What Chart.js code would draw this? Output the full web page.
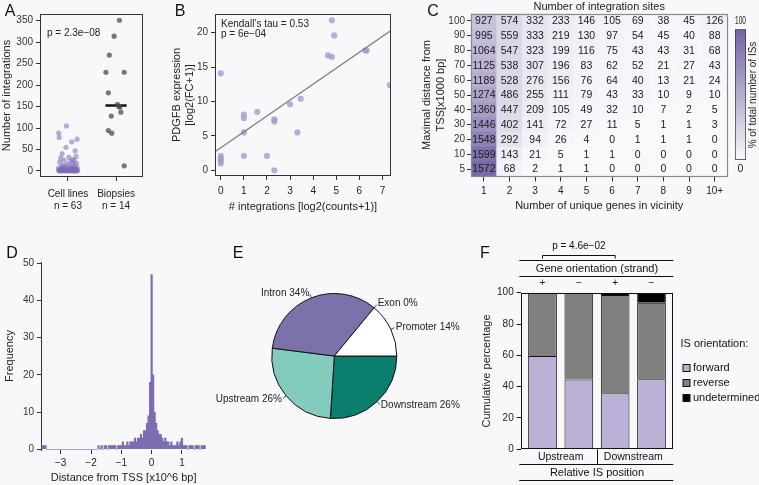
<!DOCTYPE html>
<html>
<head>
<meta charset="utf-8">
<script src="https://cdn.jsdelivr.net/npm/chart.js@4.4.1/dist/chart.umd.min.js"></script>
<style>
  html, body { margin: 0; padding: 0; background: #f8f8fa; }
  #fig { position: relative; width: 759px; height: 485px; overflow: hidden; }
  #fig canvas { position: absolute; left: 0; top: 0; }
</style>
</head>
<body>
<div id="fig">
  <canvas id="panelA" width="759" height="485"></canvas>
  <canvas id="panelB" width="759" height="485"></canvas>
  <canvas id="panelC" width="759" height="485"></canvas>
  <canvas id="panelCKey" width="759" height="485"></canvas>
  <canvas id="panelD" width="759" height="485"></canvas>
  <canvas id="panelE" width="759" height="485"></canvas>
  <canvas id="panelF" width="759" height="485"></canvas>
</div>
<script>
// ---- A: integrations per sample ----
const cellLineCounts = [105, 88, 78, 74, 68, 55, 47, 40, 34, 32, 30, 27, 25, 24, 22, 20, 18, 16, 15, 13, 12, 11, 10, 9, 8, 8, 7, 6, 6, 5,
  5, 4, 4, 4, 3, 3, 3, 3, 2, 2, 2, 2, 2, 2, 1, 1, 1, 1, 1, 1,
  1, 1, 1, 1, 1, 1, 0, 0, 0, 0, 0, 0, 0];
const cellLineJitter = [-0.03, -0.19, -0.18, 0.19, 0.08, -0.04, 0.15, -0.12, 0.17, 0.02, -0.15, 0.1, -0.08, 0.13, 0.05, -0.17, 0.18, -0.02, 0.09, -0.11, 0.14, -0.06, 0.03, -0.14, 0.11, 0.19, -0.09, 0.06, -0.2, 0.16,
  -0.01, 0.12, -0.16, 0.04, -0.07, 0.18, 0.07, -0.13, 0.2, -0.05, 0.01, 0.15, -0.18, 0.09, -0.1, 0.13, -0.03, 0.17, 0.05, -0.15,
  0.11, -0.19, 0.02, 0.16, -0.08, 0.07, -0.12, 0.19, -0.04, 0.1, -0.17, 0.14, 0.0];
const biopsyCounts = [351, 314, 270, 230, 230, 182, 155, 149, 150, 137, 128, 94, 88, 12];
const biopsyJitter = [0.07, -0.04, -0.14, -0.21, 0.17, -0.16, 0.03, 0.08, 0.06, 0.1, -0.1, -0.16, -0.09, 0.17];
const aGroups = [['Cell lines', 'n = 63'], ['Biopsies', 'n = 14']];
const aTicks = [0, 50, 100, 150, 200, 250, 300, 350];

// ---- B: integrations vs PDGFB expression ----
const integrationsLog2 = [0, 0, 0, 0, 0, 1, 1, 1, 1, 1.58, 2, 2.32, 2.32, 2.32, 3, 3.32, 3.46, 4.64, 4.81, 4.81, 4.91, 6.25, 6.32, 7.32];
const pdgfbLog2 = [14.1, 2.1, 1.7, 1.4, 1.0, 8.1, 7.6, 5.5, 2.1, 8.5, 2.1, 7.4, 7.1, 0, 9.6, 5.5, 10.4, 16.7, 16.5, 21.8, 19.6, 17.4, 17.4, 12.4];
const fitIntercept = 3.28, fitSlope = 2.31;
const bXTicks = [0, 1, 2, 3, 4, 5, 6, 7];
const bYTicks = [0, 5, 10, 15, 20];

// ---- C: integration sites by distance and gene count ----
const geneCols = ['1', '2', '3', '4', '5', '6', '7', '8', '9', '10+'];
const distRows = ['5', '10', '20', '30', '40', '50', '60', '70', '80', '90', '100'];
const row100 = [927, 574, 332, 233, 146, 105, 69, 38, 45, 126];
const row90 = [995, 559, 333, 219, 130, 97, 54, 45, 40, 88];
const row80 = [1064, 547, 323, 199, 116, 75, 43, 43, 31, 68];
const row70 = [1125, 538, 307, 196, 83, 62, 52, 21, 27, 43];
const row60 = [1189, 528, 276, 156, 76, 64, 40, 13, 21, 24];
const row50 = [1274, 486, 255, 111, 79, 43, 33, 10, 9, 10];
const row40 = [1360, 447, 209, 105, 49, 32, 10, 7, 2, 5];
const row30 = [1446, 402, 141, 72, 27, 11, 5, 1, 1, 3];
const row20 = [1548, 292, 94, 26, 4, 0, 1, 1, 1, 0];
const row10 = [1599, 143, 21, 5, 1, 1, 0, 0, 0, 0];
const row5 = [1572, 68, 2, 1, 1, 0, 0, 0, 0, 0];
const heatRows = [row5, row10, row20, row30, row40, row50, row60, row70, row80, row90, row100];
const keyTicks = [0, 100];

// ---- D: distance to TSS histogram (bins of 0.05 from -3.6) ----
const distStart = -3.6, distStep = 0.05;
const distCounts = [1, 1, 1,
  0, 0, 0, 0, 0, 0, 0, 0, 0, 0, 0, 0, 0, 0, 0, 0, 0, 0, 0, 0, 0, 0, 0, 0, 0, 0, 0, 0, 0, 0, 0, 0, 0, 0,
  1, 0, 1, 0, 1, 1, 0, 1, 1, 1, 1, 1, 0, 1, 1, 1, 2, 1, 1, 2, 1, 2, 2, 2, 3, 2, 3, 3, 4, 3, 5, 5, 7, 9, 18,
  47,
  20, 10, 7, 5, 4, 4, 3, 2, 3, 2, 2, 1, 2, 1, 1, 1, 2, 1, 2, 3, 1, 1, 1, 0, 1, 1, 1, 0, 1, 1, 1, 0, 1, 1, 1];
const dXTicks = [-3, -2, -1, 0, 1];
const dYTicks = [0, 10, 20, 30, 40, 50];

// ---- E: genomic region ----
const regionNames = ['Downstream', 'Upstream', 'Intron', 'Exon', 'Promoter'];
const regionShares = [26, 26, 34, 0, 14];
const regionColors = ['#0b7e6d', '#82cbbd', '#7c72aa', '#ffffff', '#ffffff'];

// ---- F: IS orientation ----
const isForward = [59.5, 44.5, 35.8, 44.8];
const isReverse = [40.5, 55.5, 62.7, 48.8];
const isUndetermined = [0, 0, 1.5, 6.4];
const strandSigns = ['+', '\u2212', '+', '\u2212'];
const isPositions = ['Upstream', 'Downstream'];
const fYTicks = [0, 20, 40, 60, 80, 100];

// ---------------------------------------------------------------
const family = "'Liberation Sans', Arial, Helvetica, sans-serif";
Chart.defaults.font.family = family;
Chart.defaults.font.size = 10;
Chart.defaults.color = '#222';
Chart.defaults.animation = false;
Chart.defaults.events = [];
Chart.defaults.plugins.legend.display = false;
Chart.defaults.plugins.tooltip.enabled = false;

const FW = 759, FH = 485;

// layout padding so that the plot area lands on (l, t, r, b)
function pad(l, t, r, b, yw, xh, th) {
  return { left: l - yw, top: t - (th || 0), right: FW - r, bottom: FH - b - xh };
}
function fixSize(size) {
  return s => {
    if (s.isHorizontal()) s.height = size; else s.width = size;
    s.paddingLeft = s.paddingRight = s.paddingTop = s.paddingBottom = 0;
  };
}
function ticksAt(values) {
  return s => { s.ticks = values.map(v => ({ value: v })); };
}
const minus = v => String(v).replace('-', '\u2212');
function base(padding) {
  return { responsive: false, devicePixelRatio: 1, layout: { padding, autoPadding: false } };
}
const tickGrid = (color, len) => ({ drawOnChartArea: false, drawTicks: true, tickLength: len, color, lineWidth: 1 });

const frame = {
  id: 'frame',
  afterDatasetsDraw(chart, args, o) {
    const { ctx, chartArea: a } = chart;
    const l = Math.round(a.left) + 0.5, t = Math.round(a.top) + 0.5;
    const r = Math.round(a.right) - 0.5, b = Math.round(a.bottom) - 0.5;
    ctx.save();
    ctx.strokeStyle = o.color;
    ctx.lineWidth = o.width || 1;
    ctx.strokeRect(l, t, r - l, b - t);
    ctx.restore();
  }
};

const notes = {
  id: 'notes',
  afterDraw(chart, args, o) {
    const ctx = chart.ctx;
    (o.items || []).forEach(n => {
      ctx.save();
      ctx.font = `${n.size || 10}px ${family}`;
      ctx.fillStyle = n.color || '#222';
      ctx.textAlign = n.align || 'left';
      ctx.textBaseline = 'middle';
      ctx.translate(n.x, n.y);
      if (n.rot) ctx.rotate(n.rot);
      ctx.fillText(n.text, 0, 0);
      ctx.restore();
    });
  }
};

// ---------------- A ----------------
const sortedB = biopsyCounts.slice().sort((a, b) => a - b);
const biopsyMedian = (sortedB[6] + sortedB[7]) / 2;

new Chart(document.getElementById('panelA'), {
  type: 'scatter',
  data: {
    datasets: [
      {
        data: cellLineCounts.map((v, i) => ({ x: 1 + cellLineJitter[i], y: v })),
        pointRadius: 2.6, pointBorderWidth: 0, pointBackgroundColor: 'rgba(128,106,186,0.55)'
      },
      {
        data: biopsyCounts.map((v, i) => ({ x: 2 + biopsyJitter[i], y: v })),
        pointRadius: 2.6, pointBorderWidth: 0, pointBackgroundColor: 'rgba(70,70,70,0.72)'
      },
      {
        type: 'line', showLine: true,
        data: [{ x: 1.78, y: biopsyMedian }, { x: 2.22, y: biopsyMedian }],
        borderColor: '#111', borderWidth: 2.5, pointRadius: 0
      }
    ]
  },
  options: {
    ...base(pad(40, 14, 143, 177, 40, 40)),
    scales: {
      x: {
        type: 'linear', min: 0.42, max: 2.56,
        afterBuildTicks: ticksAt([1, 2]), afterFit: fixSize(40),
        border: { display: false }, grid: tickGrid('#333', 4),
        ticks: { padding: 7, autoSkip: false, maxRotation: 0, callback: v => aGroups[v - 1] }
      },
      y: {
        type: 'linear', min: -14, max: 365.6,
        afterBuildTicks: ticksAt(aTicks), afterFit: fixSize(40),
        border: { display: false }, grid: tickGrid('#333', 4),
        ticks: { padding: 3, autoSkip: false, color: '#333' },
        title: { display: true, text: 'Number of integrations', font: { size: 11 }, padding: 0 }
      }
    },
    plugins: {
      frame: { color: '#333' },
      notes: {
        items: [
          { text: 'A', x: 10, y: 12, size: 16, align: 'center', color: '#111' },
          { text: 'B', x: 180, y: 12, size: 16, align: 'center', color: '#111' },
          { text: 'C', x: 433, y: 12, size: 16, align: 'center', color: '#111' },
          { text: 'D', x: 12, y: 254, size: 16, align: 'center', color: '#111' },
          { text: 'E', x: 238, y: 254, size: 16, align: 'center', color: '#111' },
          { text: 'F', x: 485, y: 254, size: 16, align: 'center', color: '#111' },
          { text: 'p = 2.3e\u221208', x: 47, y: 33.5 }
        ]
      }
    }
  },
  plugins: [frame, notes]
});

// ---------------- B ----------------
const bXMin = -0.25, bXMax = 7.37;
new Chart(document.getElementById('panelB'), {
  type: 'scatter',
  data: {
    datasets: [
      {
        type: 'line', showLine: true,
        data: [bXMin, bXMax].map(x => ({ x, y: fitIntercept + fitSlope * x })),
        borderColor: '#7a7a7a', borderWidth: 1.2, pointRadius: 0
      },
      {
        data: integrationsLog2.map((x, i) => ({ x, y: pdgfbLog2[i] })),
        pointRadius: 3.1, pointBorderWidth: 0, pointBackgroundColor: 'rgba(163,148,205,0.75)'
      }
    ]
  },
  options: {
    ...base(pad(215, 14, 391, 176, 45, 38)),
    scales: {
      x: {
        type: 'linear', min: bXMin, max: bXMax,
        afterBuildTicks: ticksAt(bXTicks), afterFit: fixSize(38),
        border: { display: false }, grid: tickGrid('#333', 4),
        ticks: { padding: 5, autoSkip: false, maxRotation: 0 },
        title: { display: true, text: '# integrations [log2(counts+1)]', font: { size: 11 }, padding: 0 }
      },
      y: {
        type: 'linear', min: -0.83, max: 22.72,
        afterBuildTicks: ticksAt(bYTicks), afterFit: fixSize(45),
        border: { display: false }, grid: tickGrid('#333', 4),
        ticks: { padding: 3, autoSkip: false, color: '#333' },
        title: { display: true, text: ['PDGFB expression', '[log2(FC+1)]'], font: { size: 11 }, padding: 0 }
      }
    },
    plugins: {
      frame: { color: '#333' },
      notes: {
        items: [
          { text: 'Kendall\u2019s tau = 0.53', x: 221, y: 24 },
          { text: 'p = 6e\u221204', x: 221, y: 34.5 }
        ]
      }
    }
  },
  plugins: [frame, notes]
});

// ---------------- C ----------------
const heatLow = [249, 248, 251], heatHigh = [115, 98, 163];
function heatColor(f) {
  const c = heatLow.map((lo, k) => Math.round(lo + (heatHigh[k] - lo) * f));
  return `rgb(${c.join(',')})`;
}

const cellCounts = {
  id: 'cellCounts',
  afterDatasetsDraw(chart) {
    const ctx = chart.ctx;
    ctx.save();
    ctx.font = `10.5px ${family}`;
    ctx.fillStyle = '#1a1a1a';
    ctx.textAlign = 'center';
    ctx.textBaseline = 'middle';
    heatRows.forEach((row, r) => {
      chart.getDatasetMeta(r).data.forEach((bar, c) => {
        ctx.fillText(String(row[c]), bar.x, (bar.y + bar.base) / 2 + 0.5);
      });
    });
    ctx.restore();
  }
};

new Chart(document.getElementById('panelC'), {
  type: 'bar',
  data: {
    labels: geneCols,
    datasets: heatRows.map((row, r) => {
      const total = row.reduce((s, v) => s + v, 0);
      return {
        label: distRows[r],
        data: row.map(() => 1),
        backgroundColor: row.map(v => heatColor(v / total)),
        borderWidth: 0, barPercentage: 1, categoryPercentage: 1
      };
    })
  },
  options: {
    ...base(pad(471, 13.5, 727.5, 176.5, 52, 36, 13.5)),
    scales: {
      x: {
        type: 'category', stacked: true, offset: true, afterFit: fixSize(36),
        border: { display: false }, grid: { ...tickGrid('#333', 5), offset: false },
        ticks: { padding: 4, autoSkip: false, maxRotation: 0 },
        title: { display: true, text: 'Number of unique genes in vicinity', font: { size: 11 }, padding: 0 }
      },
      xTop: {
        type: 'category', position: 'top', afterFit: fixSize(13.5),
        ticks: { display: false }, grid: { display: false }, border: { display: false },
        title: { display: true, text: 'Number of integration sites', font: { size: 11 }, padding: 0 }
      },
      y: {
        type: 'linear', stacked: true, min: 0, max: 11,
        afterBuildTicks: ticksAt(distRows.map((d, i) => i + 0.5)), afterFit: fixSize(52),
        border: { display: false }, grid: tickGrid('#333', 4),
        ticks: { padding: 2, autoSkip: false, color: '#333', callback: (v, i) => distRows[i] },
        title: { display: true, text: ['Maximal distance from', 'TSS[x1000 bp]'], font: { size: 11, lineHeight: 1.3 }, padding: { top: 0.5, bottom: 0 } }
      }
    },
    plugins: { frame: { color: '#8a8a8a', width: 1.2 } }
  },
  plugins: [cellCounts, frame]
});

// colour key of C
new Chart(document.getElementById('panelCKey'), {
  type: 'bar',
  data: {
    labels: [''],
    datasets: [{
      data: [keyTicks[1]],
      backgroundColor: c => {
        const a = c.chart.chartArea;
        if (!a) return heatColor(1);
        const g = c.chart.ctx.createLinearGradient(0, a.bottom, 0, a.top);
        g.addColorStop(0, heatColor(0));
        g.addColorStop(1, heatColor(1));
        return g;
      },
      borderColor: '#333', borderWidth: 1, borderSkipped: false,
      barPercentage: 1, categoryPercentage: 1
    }]
  },
  options: {
    ...base(pad(735, 29.3, 746, 160, 0, 15.5, 14.6)),
    scales: {
      x: {
        afterFit: fixSize(15.5), ticks: { display: false }, grid: { display: false }, border: { display: false },
        title: { display: true, text: String(keyTicks[0]), font: { size: 10.5 }, padding: 0 }
      },
      xTop: {
        type: 'category', position: 'top', afterFit: fixSize(14.6),
        ticks: { display: false }, grid: { display: false }, border: { display: false },
        title: { display: true, text: String(keyTicks[1]), font: { size: 10.5 }, padding: 0 }
      },
      y: { display: false, min: keyTicks[0], max: keyTicks[1] }
    },
    plugins: {
      notes: { items: [{ text: '% of total number of ISs', x: 753, y: 95, rot: -Math.PI / 2, align: 'center' }] }
    }
  },
  plugins: [notes]
});

// ---------------- D ----------------
new Chart(document.getElementById('panelD'), {
  type: 'bar',
  data: {
    datasets: [{
      data: distCounts.map((c, i) => ({ x: distStart + i * distStep, y: c })),
      backgroundColor: '#7e6cb2', borderWidth: 0, barPercentage: 1, categoryPercentage: 1
    }]
  },
  options: {
    ...base(pad(41, 262, 206.2, 450, 41, 35)),
    scales: {
      x: {
        type: 'linear', min: -3.65, max: 1.8, offset: false,
        afterBuildTicks: ticksAt(dXTicks), afterFit: fixSize(35),
        border: { display: false }, grid: { ...tickGrid('#333', 4), offset: false },
        ticks: { padding: 3, autoSkip: false, maxRotation: 0, callback: minus },
        title: { display: true, text: 'Distance from TSS [x10^6 bp]', font: { size: 11 }, padding: 0 }
      },
      y: {
        type: 'linear', min: -0.19, max: 50.35,
        afterBuildTicks: ticksAt(dYTicks), afterFit: fixSize(41),
        border: { display: true, color: '#333' }, grid: tickGrid('#333', 4),
        ticks: { padding: 3, autoSkip: false, color: '#333' },
        title: { display: true, text: 'Frequency', font: { size: 11 }, padding: { top: 3, bottom: 0 } }
      }
    }
  }
});

// ---------------- E ----------------
const pieLabels = {
  id: 'pieLabels',
  afterDatasetsDraw(chart) {
    const ctx = chart.ctx;
    const meta = chart.getDatasetMeta(0);
    ctx.save();
    ctx.font = `10px ${family}`;
    ctx.fillStyle = '#222';
    ctx.strokeStyle = '#222';
    ctx.lineWidth = 0.8;
    ctx.textBaseline = 'middle';
    meta.data.forEach((arc, i) => {
      const mid = (arc.startAngle + arc.endAngle) / 2;
      const c = Math.cos(mid), s = Math.sin(mid), r = arc.outerRadius;
      ctx.beginPath();
      ctx.moveTo(arc.x + c * r, arc.y + s * r);
      ctx.lineTo(arc.x + c * (r + 4), arc.y + s * (r + 4));
      ctx.stroke();
      ctx.textAlign = c >= 0 ? 'left' : 'right';
      ctx.fillText(`${regionNames[i]} ${regionShares[i]}%`, arc.x + c * (r + 5.5), arc.y + s * (r + 5.5));
    });
    ctx.restore();
  }
};

new Chart(document.getElementById('panelE'), {
  type: 'pie',
  data: {
    labels: regionNames,
    datasets: [{ data: regionShares, backgroundColor: regionColors, borderColor: '#111', borderWidth: 1 }]
  },
  options: {
    ...base(pad(271.3, 293, 397.3, 419, 0, 0)),
    rotation: 90
  },
  plugins: [pieLabels]
});

// ---------------- F ----------------
const strandTable = {
  id: 'strandTable',
  afterDraw(chart) {
    const { ctx, chartArea: a, scales: { x } } = chart;
    const line = (x1, y1, x2, y2) => {
      ctx.beginPath(); ctx.moveTo(x1, y1); ctx.lineTo(x2, y2); ctx.stroke();
    };
    const text = (t, tx, ty, size) => {
      ctx.font = `${size}px ${family}`;
      ctx.fillText(t, tx, ty);
    };
    ctx.save();
    ctx.strokeStyle = '#111';
    ctx.fillStyle = '#111';
    ctx.lineWidth = 1;
    ctx.textAlign = 'center';
    ctx.textBaseline = 'middle';
    const l = a.left - 1.4, r = a.right;
    // comparison bracket (bar 1 vs bar 3)
    const p1 = x.getPixelForValue(1), p3 = x.getPixelForValue(3);
    line(p1, 258.5, p1, 255.5); line(p1, 255.5, p3, 255.5); line(p3, 255.5, p3, 258.5);
    text('p = 4.6e\u221202', (p1 + p3) / 2, 246.7, 10);
    line(l, 260.5, r, 260.5);
    text('Gene orientation (strand)', (a.left + a.right) / 2, 268.5, 11);
    line(l, 276.5, r, 276.5);
    strandSigns.forEach((s, i) => text(s, x.getPixelForValue(i + 1), 283.5, 10));
    // bottom
    isPositions.forEach((p, i) => text(p, x.getPixelForValue(1.5 + 2 * i), 457, 10.5));
    const sep = Math.round(x.getPixelForValue(2.5)) + 0.5;
    line(sep, a.bottom, sep, 464.5);
    line(l, 464.5, r, 464.5);
    text('Relative IS position', (a.left + a.right) / 2, 472.7, 11);
    line(l, 480.5, r, 480.5);
    ctx.restore();
  }
};

const orientationKey = {
  id: 'orientationKey',
  afterDraw(chart, args, o) {
    const ctx = chart.ctx;
    ctx.save();
    ctx.font = `11px ${family}`;
    ctx.fillStyle = '#111';
    ctx.textBaseline = 'middle';
    ctx.textAlign = 'left';
    ctx.fillText(o.title, o.x, o.y);
    chart.data.datasets.forEach((ds, i) => {
      const y = Math.round(o.y + o.first + i * o.step);
      ctx.fillStyle = ds.backgroundColor;
      ctx.fillRect(o.x + 2.5, y - 3.5, 7, 7);
      ctx.strokeStyle = '#111';
      ctx.lineWidth = 1;
      ctx.strokeRect(o.x + 2.5, y - 3.5, 7, 7);
      ctx.fillStyle = '#111';
      ctx.fillText(ds.label, o.x + 12.5, y);
    });
    ctx.restore();
  }
};

// zero-height segments are left out so they draw no stray outline
const fPoints = vals => vals.map((v, i) => ({ x: i + 1, y: v > 0 ? v : null }));
const fBar = { borderColor: '#111', borderWidth: 1, borderSkipped: 'start', barPercentage: 0.79, categoryPercentage: 1 };
new Chart(document.getElementById('panelF'), {
  type: 'bar',
  data: {
    datasets: [
      { label: 'forward', data: fPoints(isForward), backgroundColor: '#bcb0d6', ...fBar },
      { label: 'reverse', data: fPoints(isReverse), backgroundColor: '#808080', ...fBar },
      { label: 'undetermined', data: fPoints(isUndetermined), backgroundColor: '#000000', ...fBar }
    ]
  },
  options: {
    ...base(pad(520.7, 292.7, 673.3, 449.3, 40, 0)),
    scales: {
      x: { type: 'linear', min: 0.4, max: 4.6, offset: false, stacked: true, display: false },
      y: {
        type: 'linear', stacked: true, min: 0, max: 100,
        afterBuildTicks: ticksAt(fYTicks), afterFit: fixSize(40),
        border: { display: false }, grid: tickGrid('#111', 4),
        ticks: { padding: 3, autoSkip: false, color: '#222' },
        title: { display: true, text: 'Cumulative percentage', font: { size: 11 }, padding: 0 }
      }
    },
    plugins: {
      frame: { color: '#111' },
      orientationKey: { title: 'IS orientation:', x: 680.5, y: 344.3, first: 23.4, step: 15.3 }
    }
  },
  plugins: [frame, strandTable, orientationKey]
});
</script>
</body>
</html>
